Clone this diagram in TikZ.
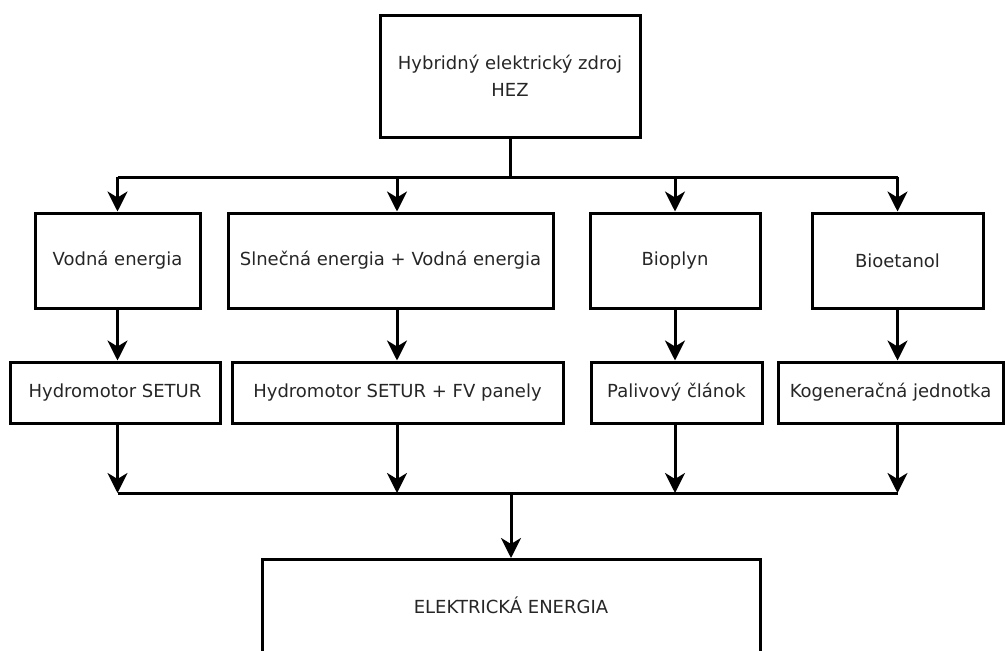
\documentclass[tikz,border=0pt]{standalone}
\usepackage{fontspec}
\setmainfont{DejaVu Sans}
\usetikzlibrary{arrows.meta}
\begin{document}
\begin{tikzpicture}[x=1pt,y=-1pt,
  every node/.style={font=\fontsize{18}{27}\selectfont, text=black!85},
  box/.style={draw, line width=3pt, inner sep=0pt, align=center},
  line/.style={line width=3pt},
  arr/.style={line width=3pt, -{Stealth[length=20pt,width=20pt,inset=6pt]}}]
\useasboundingbox (0,0) rectangle (1005,651);
\begin{scope}
\clip (0,0) rectangle (1005,651);

% source
\node[box, minimum width=260, minimum height=122] (hez) at (510,76)
  {Hybridný elektrický zdroj\\HEZ};

% energy forms
\node[box, minimum width=165, minimum height=95] (vod) at (117.5,260.5) {Vodná energia};
\node[box, minimum width=325, minimum height=95] (sln) at (390.5,260.5) {Slnečná energia + Vodná energia};
\node[box, minimum width=170, minimum height=95] (bio) at (675,260.5) {Bioplyn};
\node[box, minimum width=171, minimum height=95] (bet) at (897.5,260.5) {Bioetanol};

% converters
\node[box, minimum width=210, minimum height=61] (hyd) at (115,392.5) {Hydromotor SETUR};
\node[box, minimum width=331, minimum height=61] (hfv) at (397.5,392.5) {Hydromotor SETUR + FV panely};
\node[box, minimum width=171, minimum height=61] (pal) at (676.5,392.5) {Palivový článok};
\node[box, minimum width=225, minimum height=61] (kog) at (890.5,392.5) {Kogeneračná jednotka};

% output
\node[box, minimum width=498, minimum height=110, anchor=north,
  label={[yshift=9pt]center:ELEKTRICKÁ ENERGIA}] (elec) at (511,558) {};

\coordinate (split) at (510,177);
\coordinate (join) at (511,493);
\coordinate (mid) at (397,0);

% distribution from the source
\draw[line] (hez.south) -- (split);
\draw[line] (vod.north |- split) -- (bet.north |- split);
\foreach \n in {vod,bio,bet}
  \draw[arr] (\n.north |- split) -- (\n.north);
\draw[arr] (mid |- split) -- (mid |- sln.north);

% energy form to converter
\draw[arr] (vod.south) -- (vod.south |- hyd.north);
\draw[arr] (mid |- sln.south) -- (mid |- hfv.north);
\draw[arr] (bio.south) -- (bio.south |- pal.north);
\draw[arr] (bet.south) -- (bet.south |- kog.north);

% collection into electric energy
\draw[line] (vod.south |- join) -- (bet.south |- join);
\draw[arr] (vod.south |- hyd.south) -- (vod.south |- join);
\draw[arr] (mid |- hfv.south) -- (mid |- join);
\draw[arr] (bio.south |- pal.south) -- (bio.south |- join);
\draw[arr] (bet.south |- kog.south) -- (bet.south |- join);
\draw[arr] (join) -- (elec.north);
\end{scope}
\end{tikzpicture}
\end{document}
